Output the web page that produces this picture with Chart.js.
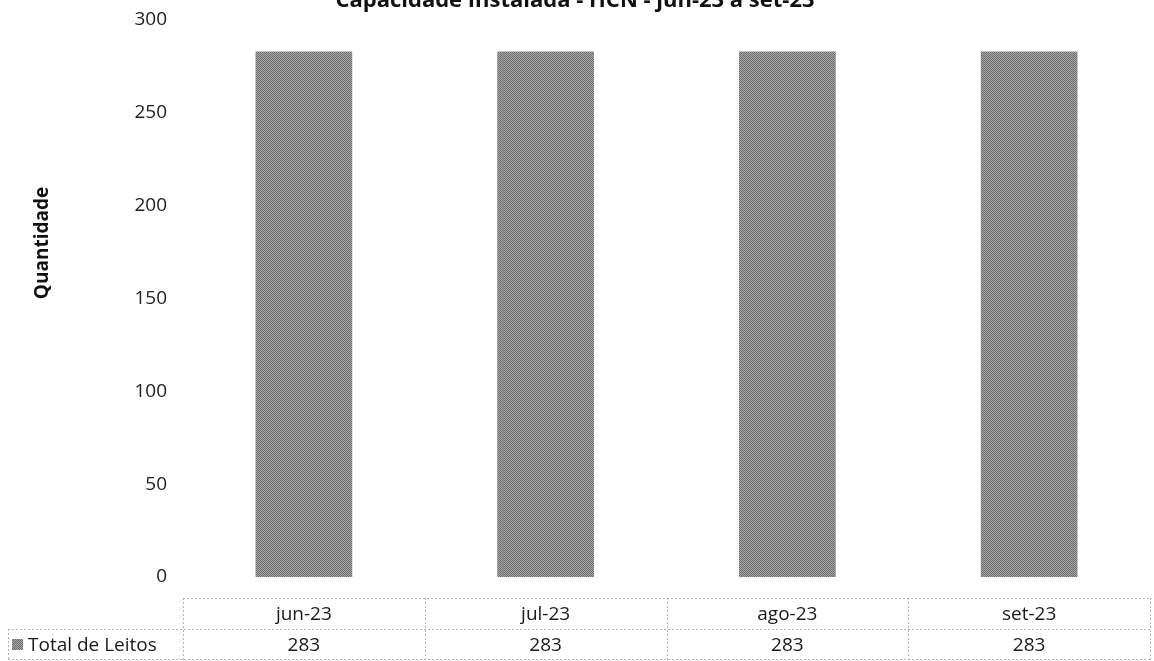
<!DOCTYPE html>
<html>
<head>
<meta charset="utf-8">
<script src="https://cdn.jsdelivr.net/npm/chart.js@4.4.0/dist/chart.umd.min.js"></script>
<style>
  html, body { margin: 0; padding: 0; background: #fff; }
  #wrap { width: 1154px; height: 661px; }
</style>
</head>
<body>
<div id="wrap"><canvas id="chart"></canvas></div>
<script>
// Chart data
const months = ['jun-23', 'jul-23', 'ago-23', 'set-23'];
const totalLeitos = [283, 283, 283, 283];
const seriesName = 'Total de Leitos';
const yTicks = [0, 50, 100, 150, 200, 250, 300];
const chartTitle = 'Capacidade Instalada - HCN - jun-23 a set-23';
const yTitle = 'Quantidade';

const FONT = '"Open Sans", "Liberation Sans", sans-serif';

// grainy gray fill like the scanned bars
function makePattern() {
    const c = document.createElement('canvas');
    c.width = 2; c.height = 2;
    const g = c.getContext('2d');
    g.fillStyle = '#a6a6a6'; g.fillRect(0, 0, 2, 2);
    g.fillStyle = '#6e6e6e'; g.fillRect(0, 0, 1, 1); g.fillRect(1, 1, 1, 1);
    return g.createPattern(c, 'repeat');
}

// draws title (cut at top), y title and the data table below the bars
const extras = {
    id: 'extras',
    afterDraw(chart) {
        const ctx = chart.ctx;
        const area = chart.chartArea;
        const x = chart.scales.x;
        const colW = (area.right - area.left) / months.length;

        ctx.save();
        // title, mostly cropped off the top edge
        ctx.fillStyle = '#111';
        ctx.font = 'bold 22px ' + FONT;
        ctx.textAlign = 'center';
        ctx.textBaseline = 'alphabetic';
        ctx.fillText(chartTitle, 575, 7);

        // y axis title
        ctx.save();
        ctx.translate(43, 243);
        ctx.rotate(-Math.PI / 2);
        ctx.font = 'bold 19px ' + FONT;
        ctx.textAlign = 'center';
        ctx.textBaseline = 'middle';
        ctx.fillText(yTitle, 0, 0);
        ctx.restore();

        // table grid
        const top = 598, mid = 629, bot = 660;
        ctx.strokeStyle = '#b5b5b5';
        ctx.lineWidth = 1;
        ctx.setLineDash([2, 2]);
        ctx.beginPath();
        ctx.moveTo(area.left, top + 0.5); ctx.lineTo(area.right, top + 0.5);
        ctx.moveTo(8, mid + 0.5); ctx.lineTo(area.right, mid + 0.5);
        ctx.moveTo(8, bot - 0.5); ctx.lineTo(area.right, bot - 0.5);
        for (let i = 0; i <= months.length; i++) {
            const lx = Math.round(area.left + i * colW) + 0.5;
            ctx.moveTo(lx, top); ctx.lineTo(lx, bot);
        }
        ctx.moveTo(8.5, mid); ctx.lineTo(8.5, bot);
        ctx.stroke();
        ctx.setLineDash([]);

        // header and values
        ctx.fillStyle = '#1a1a1a';
        ctx.font = '19px ' + FONT;
        ctx.textAlign = 'center';
        ctx.textBaseline = 'middle';
        months.forEach((m, i) => {
            const cx = x.getPixelForValue(i);
            ctx.fillText(m, cx, (top + mid) / 2 + 1);
            ctx.fillText(String(totalLeitos[i]), cx, (mid + bot) / 2 + 1);
        });

        // legend key
        ctx.fillStyle = chart.data.datasets[0].backgroundColor;
        ctx.fillRect(12, 639, 11, 11);
        ctx.fillStyle = '#1a1a1a';
        ctx.textAlign = 'left';
        ctx.fillText(seriesName, 28, (mid + bot) / 2 + 1);
        ctx.restore();
    }
};

const ctx = document.getElementById('chart').getContext('2d');
new Chart(ctx, {
    type: 'bar',
    data: {
        labels: months,
        datasets: [{
            label: seriesName,
            data: totalLeitos,
            backgroundColor: makePattern(),
            borderWidth: 0,
            barPercentage: 0.4,
            categoryPercentage: 1.0
        }]
    },
    options: {
        responsive: true,
        maintainAspectRatio: false,
        animation: false,
        layout: { padding: { top: 20, right: 4, bottom: 84, left: 0 } },
        plugins: {
            legend: { display: false },
            title: { display: false },
            tooltip: { enabled: false }
        },
        scales: {
            x: { display: false },
            y: {
                min: 0,
                max: 300,
                afterFit: s => { s.width = 183; },
                afterBuildTicks: s => { s.ticks = yTicks.map(v => ({ value: v })); },
                grid: { display: false },
                border: { display: false },
                ticks: {
                    color: '#222',
                    padding: 8,
                    font: { family: FONT, size: 19 }
                }
            }
        }
    },
    plugins: [extras]
});
</script>
</body>
</html>
